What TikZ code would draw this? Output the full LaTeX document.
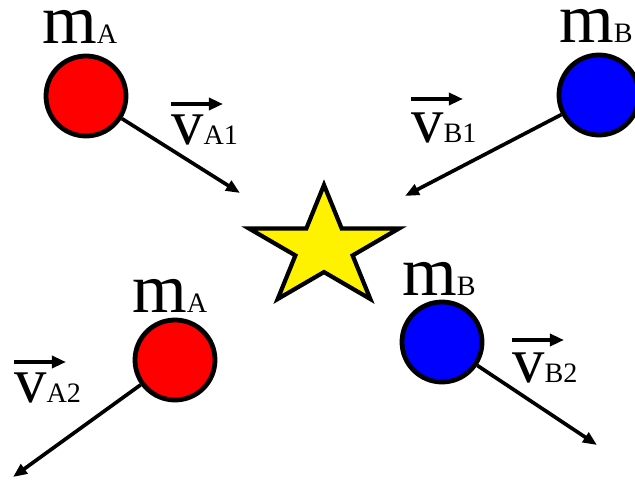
\documentclass[tikz,border=0pt]{standalone}
\usepackage{fontspec}
\setmainfont{Liberation Serif}
\usepackage{tikz}
\usetikzlibrary{arrows.meta,shapes.geometric}
\newcommand{\massof}[1]{\fontsize{50}{60}\selectfont m{\fontsize{20}{24}\selectfont #1}}
\newcommand{\velof}[1]{\fontsize{46}{55}\selectfont v{\fontsize{20}{24}\selectfont #1}}

\begin{document}
\begin{tikzpicture}[x=0.025cm,y=-0.025cm,
    ball/.style={circle,draw,line width=3.4pt,minimum size=2cm,inner sep=0pt},
    lbl/.style={anchor=base west,inner sep=0pt},
    vel/.style={-{Triangle[length=10pt,width=8pt]},line width=2.6pt},
    hat/.style={-{Triangle[length=10pt,width=8.5pt]},line width=3pt}
]
\useasboundingbox (0,0) rectangle (635,479);

\node[star,star points=5,star point ratio=2.618,minimum size=3.15cm,inner sep=0pt,
      draw,line width=3pt,fill=yellow,xscale=1.25,transform shape] (crash) at (324,248) {};

\node[ball,fill=red]  (A1) at (86,96) {};
\node[ball,fill=blue] (B1) at (599,95) {};
\node[ball,fill=red]  (A2) at (175,360) {};
\node[ball,fill=blue] (B2) at (442,342) {};

\node[lbl] (mA1) at (42,44)   {\massof{A}};
\node[lbl] (mB1) at (559,43)  {\massof{B}};
\node[lbl] (mA2) at (132,312) {\massof{A}};
\node[lbl] (mB2) at (402,295) {\massof{B}};

\node[lbl] (vA1) at (171,144) {\velof{A1}};
\node[lbl] (vB1) at (411,142) {\velof{B1}};
\node[lbl] (vA2) at (14,402)  {\velof{A2}};
\node[lbl] (vB2) at (512,382) {\velof{B2}};

\draw[hat] ([shift={(0,-40)}]vA1.base west) -- ++(52,0);
\draw[hat] ([shift={(0,-43)}]vB1.base west) -- ++(52,0);
\draw[hat] ([shift={(0,-40)}]vA2.base west) -- ++(52,0);
\draw[hat] ([shift={(0,-42)}]vB2.base west) -- ++(52,0);

\coordinate (tipA1) at (240,193);
\coordinate (tipB1) at (405,196);
\coordinate (tipA2) at (13,477);
\coordinate (tipB2) at (597,445);

\draw[vel] (A1) -- (tipA1);
\draw[vel] (B1) -- (tipB1);
\draw[vel] (A2) -- (tipA2);
\draw[vel] (B2) -- (tipB2);
\end{tikzpicture}
\end{document}
